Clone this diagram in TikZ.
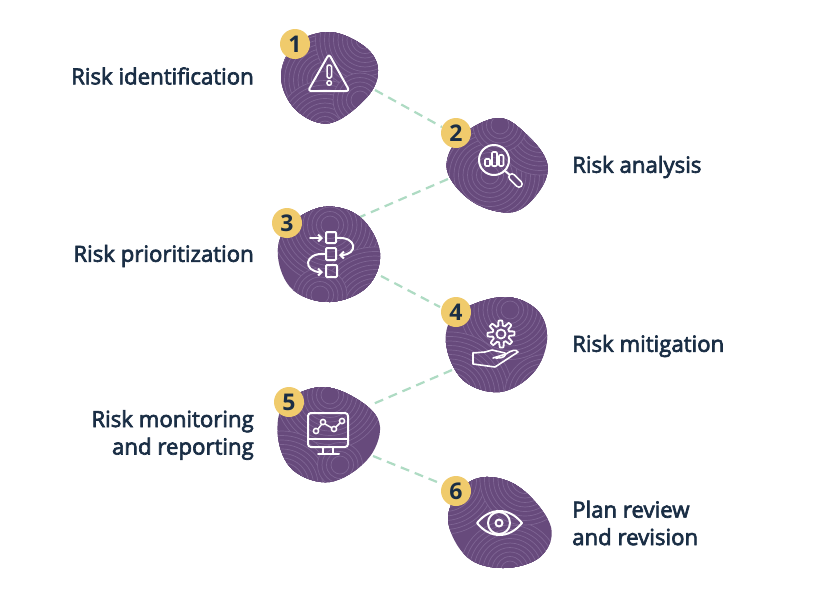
\documentclass[tikz,border=0pt]{standalone}
\usepackage{fontspec}
\setmainfont{Open Sans}
\usetikzlibrary{arrows.meta}
\definecolor{blobfill}{HTML}{674A7C}
\definecolor{ringcol}{HTML}{7F6594}
\definecolor{badgefill}{HTML}{F0CB6C}
\definecolor{inkcol}{HTML}{1A2E45}
\definecolor{dashcol}{HTML}{AEDBC3}
\tikzset{
  ring/.style={draw=ringcol,line width=0.7pt,fill=blobfill},
  badge/.style={circle,fill=badgefill,minimum size=30pt,inner sep=0pt,text=inkcol,font=\fontsize{23}{23}\selectfont\bfseries},
  link/.style={draw=dashcol,line width=2.2pt,dash pattern=on 9pt off 6pt},
  icon/.style={draw=white,line width=2pt,line join=round,line cap=round},
  lab/.style={text=inkcol,inner sep=0pt,font=\fontsize{22.2}{27.5}\selectfont\addfontfeature{FakeBold=3}},
  labl/.style={lab,anchor=east,align=right},
  labr/.style={lab,anchor=west,align=left},
  tip/.style={-{Straight Barb[length=3.5pt,width=7pt]}}
}
\newcommand{\myblob}[2]{%
  \begin{scope}
    \clip plot[smooth cycle,tension=.62] coordinates {#1};
    \fill[blobfill] (200,0) rectangle (650,600);
    \foreach \cx/\cy/\cr in {#2}{%
      \foreach \rr in {\cr,...,2}{%
        \pgfmathsetmacro{\qq}{\rr*4.5}%
        \path[ring] (\cx,\cy) circle[radius=\qq pt];
      }
    }
  \end{scope}}
\begin{document}
\begin{tikzpicture}[x=1pt,y=-1pt]
\useasboundingbox (0,0) rectangle (826,600);
\fill[white] (0,0) rectangle (826,600);
% connector ends
\coordinate (a1) at (375,90);  \coordinate (a2) at (442,127);
\coordinate (b1) at (448,179); \coordinate (b2) at (360,217);
\coordinate (c1) at (381,276); \coordinate (c2) at (440,307);
\coordinate (d1) at (452,370); \coordinate (d2) at (373,404);
\coordinate (e1) at (373,456); \coordinate (e2) at (442,484);
\draw[link] (a1) -- (a2);
\draw[link] (b1) -- (b2);
\draw[link] (c1) -- (c2);
\draw[link] (d1) -- (d2);
\draw[link] (e1) -- (e2);
% blobs
\myblob{(281,77) (295,44) (330,32) (365,47) (378,70) (367,97) (330,123) (296,110)}
  {325/80/12,365/40/11,325/130/11,360/100/6}
\myblob{(498,118) (527,135) (547,163) (540,190) (513,212) (473,202) (447,170) (460,137)}
  {490/175/14,540/130/10,500/125/6}
\myblob{(323,207) (360,217) (380,253) (367,287) (330,302) (293,290) (278,257) (287,227)}
  {330/225/13,375/310/14,320/295/6}
\myblob{(503,297) (537,310) (547,340) (533,373) (500,392) (463,380) (446,343) (457,313)}
  {510/310/11,450/395/14,545/395/9}
\myblob{(323,387) (363,403) (380,427) (367,460) (330,482) (293,470) (278,437) (285,403)}
  {330/395/12,282/485/12,340/465/5}
\myblob{(490,477) (523,490) (551,527) (540,557) (503,568) (467,557) (448,520) (463,487)}
  {445/480/12,510/570/11,525/480/10}
% icon 1: warning
\draw[icon,rounded corners=3pt] (329,54) -- (349.5,91) -- (308,91) -- cycle;
\draw[icon,line width=1.5pt,rounded corners=1.5pt] (327,65) rectangle (331.5,78);
\draw[icon,line width=1.5pt] (329.2,83) circle[radius=2.3pt];
% icon 2: magnifier
\draw[icon] (494,160) circle[radius=15pt];
\draw[icon,line width=1.6pt,rounded corners=1pt] (485,159) rectangle (490,166);
\draw[icon,line width=1.6pt,rounded corners=1pt] (492,152) rectangle (497,166);
\draw[icon,line width=1.6pt,rounded corners=1pt] (499,155) rectangle (503.5,166);
\draw[icon] (505,171) -- (510,175);
\draw[icon,line width=8pt] (512,177) -- (519,184);
\draw[icon,draw=blobfill,line width=4.4pt] (512,177) -- (519,184);
% icon 3: flow
\draw[icon,rounded corners=1pt] (326,232) rectangle (336,243);
\draw[icon,rounded corners=1pt] (326,248) rectangle (336,260);
\draw[icon,rounded corners=1pt] (326,265) rectangle (337,277);
\draw[icon,tip] (310,238) -- (323,238);
\draw[icon,tip] (336,238) .. controls (358,236) and (358,255) .. (339,255);
\draw[icon,tip] (326,254) .. controls (303,252) and (303,272) .. (323,272);
% icon 4: gear and hand
\draw[icon,line width=1.8pt] plot[domain=0:360,samples=145,variable=\a]
  ({501+(11+2.5*max(-1,min(1,2*cos(8*\a+22.5))))*cos(\a)},{334+(11+2.5*max(-1,min(1,2*cos(8*\a+22.5))))*sin(\a)}) -- cycle;
\draw[icon,line width=1.8pt] (501,334) circle[radius=4.5pt];
\draw[icon,line width=1.6pt] (473,353) -- (473,364) -- (495,367) -- (518,352) .. controls (516,349) and (512,350) .. (506,354) -- (493,358);
\draw[icon,line width=1.6pt] (473,353) -- (485,352) -- (492,350) -- (505,353) .. controls (506,356) and (504,358) .. (496,358);
% icon 5: monitor
\draw[icon,rounded corners=3pt] (308,413) rectangle (348,447);
\draw[icon] (308,439) -- (348,439);
\draw[icon] (323,447) -- (323,454);
\draw[icon] (333,447) -- (333,454);
\draw[icon] (318,454) -- (339,454);
\draw[icon,line width=1.5pt] (318,429) -- (321.5,424.5);
\draw[icon,line width=1.5pt] (325,424) -- (332,428);
\draw[icon,line width=1.5pt] (336,427) -- (340,423);
\foreach \px/\py in {316/431,323/422,334/429,342/421}{\draw[icon,line width=1.5pt] (\px,\py) circle[radius=2.6pt];}
% icon 6: eye
\draw[icon] (477,523) .. controls (490,507) and (509,507) .. (522,523) .. controls (509,539) and (490,539) .. (477,523) -- cycle;
\draw[icon] (499,523) circle[radius=11pt];
\draw[icon] (499,523) circle[radius=3.5pt];
% badges
\node[badge] (n1) at (295,44) {1};
\node[badge] (n2) at (456,133) {2};
\node[badge] (n3) at (287,223) {3};
\node[badge] (n4) at (456,312) {4};
\node[badge] (n5) at (289,402) {5};
\node[badge] (n6) at (456,491) {6};
% labels
\node[labl] (t1) at (254,76) {Risk identification};
\node[labr] (t2) at (572,167) {Risk analysis};
\node[labl] (t3) at (254,256) {Risk prioritization};
\node[labr] (t4) at (572,346) {Risk mitigation};
\node[labl] (t5) at (254,435) {Risk monitoring\\and reporting};
\node[labr] (t6) at (572,523) {Plan review\\and revision};
\end{tikzpicture}
\end{document}
